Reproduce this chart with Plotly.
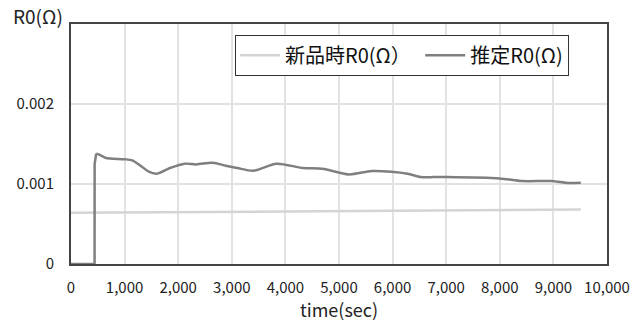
import plotly.graph_objects as go

# 推定R0(Ω) series
est_t = [0, 440, 441, 455, 470, 545, 655, 990, 1143, 1297, 1450, 1602, 1847, 2122, 2336, 2642,
         2887, 3101, 3407, 3835, 4324, 4691, 5180, 5608, 5975, 6281, 6526, 6771, 7015,
         7994, 8422, 8972, 9278, 9511]
est_v = [0, 0, 0.00125, 0.00135, 0.001379, 0.001362, 0.001325, 0.00131, 0.001295, 0.001229, 0.001154,
         0.001129, 0.0012, 0.001254, 0.001245, 0.001266, 0.001229, 0.0012, 0.001166,
         0.001254, 0.0012, 0.001191, 0.00112, 0.001162, 0.001154, 0.001129, 0.001087,
         0.001087, 0.001087, 0.00107, 0.001037, 0.001037, 0.001012, 0.001016]

# 新品時R0(Ω) series
new_t = [0, 2000, 4000, 6000, 8000, 9511]
new_v = [0.00064, 0.000645, 0.000655, 0.000665, 0.00067, 0.00068]

x_ticks = [0, 1000, 2000, 3000, 4000, 5000, 6000, 7000, 8000, 9000, 10000]
x_labels = ["0", "1,000", "2,000", "3,000", "4,000", "5,000", "6,000", "7,000", "8,000", "9,000", "10,000"]
y_ticks = [0, 0.001, 0.002]
y_labels = ["0", "0.001", "0.002"]

FONT = "Noto Sans CJK JP"
DARK = "#7f7f7f"
LIGHT = "#d4d4d4"

split = 4  # jump part drawn straight, the rest smoothed
fig = go.Figure()
fig.add_trace(go.Scatter(x=new_t, y=new_v, mode="lines", name="新品時R0(Ω） ",
                         line=dict(color=LIGHT, width=2.5)))
fig.add_trace(go.Scatter(x=est_t[:split + 1], y=est_v[:split + 1], mode="lines",
                         name="推定R0(Ω)", legendgroup="est", showlegend=False,
                         line=dict(color=DARK, width=2.5)))
fig.add_trace(go.Scatter(x=est_t[split:], y=est_v[split:], mode="lines",
                         name="推定R0(Ω)", legendgroup="est",
                         line=dict(color=DARK, width=2.5, shape="spline", smoothing=0.8)))

fig.update_layout(
    width=642, height=322,
    margin=dict(l=71, r=26, t=24, b=58),
    paper_bgcolor="white", plot_bgcolor="white",
    font=dict(family=FONT, size=15, color="#222222"),
    showlegend=True,
    legend=dict(orientation="h", x=0.306, y=0.955, xanchor="left", yanchor="top",
                bordercolor="#333333", borderwidth=1, bgcolor="white",
                font=dict(family=FONT, size=20, color="#111111"),
                itemwidth=40, tracegroupgap=0),
    xaxis=dict(range=[0, 10000], tickvals=x_ticks, ticktext=x_labels,
               showgrid=True, gridcolor="#e2e2e2", gridwidth=1.5,
               showline=True, linecolor="#444444", linewidth=2, mirror=True,
               ticks="", zeroline=False, ticklabelstandoff=9,
               tickfont=dict(family=FONT, size=15, color="#222222"),
               title=dict(text="time(sec)", font=dict(family=FONT, size=18, color="#222222"), standoff=0)),
    yaxis=dict(range=[0, 0.003], tickvals=y_ticks, ticktext=y_labels,
               showgrid=True, gridcolor="#e2e2e2", gridwidth=1.5,
               showline=True, linecolor="#444444", linewidth=2, mirror=True,
               ticks="", zeroline=False, ticklabelstandoff=12,
               tickfont=dict(family=FONT, size=15, color="#222222")),
    annotations=[dict(text="R0(Ω)", xref="paper", yref="paper", x=-0.112, y=0.97,
                      xanchor="left", yanchor="bottom", showarrow=False,
                      font=dict(family=FONT, size=19, color="#222222"))],
)

fig.write_html("out.html")
